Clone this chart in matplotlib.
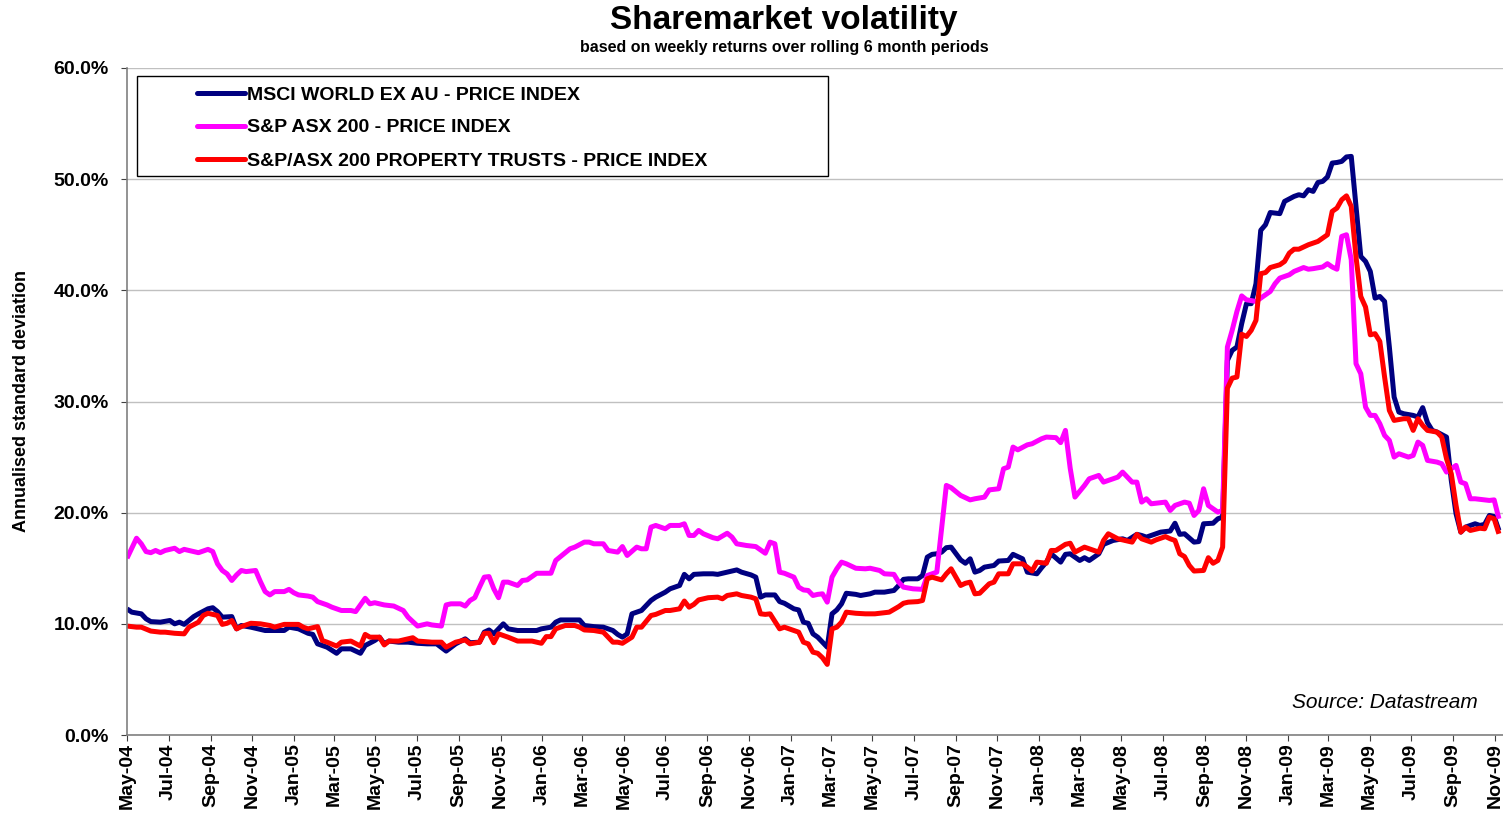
import numpy as np
import pandas as pd
import matplotlib
matplotlib.use("Agg")
import matplotlib.pyplot as plt
from matplotlib.patches import Rectangle
from matplotlib.lines import Line2D

plt.rcParams['font.family'] = ['Liberation Sans', 'DejaVu Sans']
plt.rcParams['font.weight'] = 'bold'

# weekly observation dates, series given as (week number, annualised vol %)
weeks = pd.date_range("2004-05-01", periods=289, freq="7D")

series_names = ["MSCI WORLD EX AU - PRICE INDEX",
                "S&P ASX 200 - PRICE INDEX",
                "S&P/ASX 200 PROPERTY TRUSTS - PRICE INDEX"]

msci_wk = [0, 1, 3, 4, 5, 7, 9, 10, 11, 12, 14, 15, 17, 18, 19, 20, 22, 23, 24, 26,
           29, 31, 33, 34, 36, 38, 39, 40, 42, 44, 45, 47, 49, 50, 52, 53, 54, 55, 57, 59,
           61, 63, 65, 67, 69, 71, 72, 74, 75, 76, 77, 79, 80, 82, 84, 86, 87, 89, 90, 91,
           93, 95, 96, 98, 100, 102, 103, 104, 105, 106, 108, 110, 111, 113, 114, 116, 117, 118, 119, 121,
           123, 124, 126, 128, 129, 131, 132, 133, 134, 136, 137, 138, 140, 141, 142, 143, 144, 145, 146, 147,
           148, 149, 150, 151, 153, 154, 156, 157, 159, 161, 162, 163, 164, 166, 167, 168, 169, 170, 171, 172,
           173, 175, 176, 177, 178, 179, 180, 182, 183, 185, 186, 188, 189, 191, 192, 193, 194, 196, 197, 198,
           200, 201, 202, 204, 205, 207, 209, 210, 212, 213, 214, 216, 217, 219, 220, 221, 222, 224, 225, 226,
           228, 229, 230, 231, 232, 233, 234, 235, 236, 237, 238, 239, 240, 242, 243, 245, 246, 247, 248, 249,
           250, 251, 252, 253, 254, 255, 256, 257, 258, 259, 260, 261, 262, 263, 264, 265, 266, 267, 268, 270,
           271, 272, 273, 274, 275, 277, 278, 279, 280, 281, 283, 284, 285, 286, 287, 288]
msci_vol = [11.35, 11.05, 10.9, 10.45, 10.2, 10.15, 10.3, 10.0, 10.15, 9.95, 10.65, 10.9, 11.35, 11.45, 11.1, 10.6, 10.65, 9.55, 9.85, 9.7,
            9.4, 9.4, 9.4, 9.7, 9.55, 9.15, 9.05, 8.2, 7.9, 7.35, 7.75, 7.75, 7.35, 8.05, 8.5, 8.8, 8.2, 8.45, 8.35, 8.35,
            8.25, 8.2, 8.2, 7.55, 8.2, 8.65, 8.3, 8.35, 9.25, 9.45, 9.1, 10.0, 9.55, 9.4, 9.4, 9.4, 9.55, 9.7, 10.15, 10.35,
            10.35, 10.35, 9.85, 9.75, 9.7, 9.4, 9.05, 8.8, 9.1, 10.9, 11.2, 12.1, 12.4, 12.85, 13.15, 13.45, 14.45, 14.05, 14.45, 14.5,
            14.5, 14.45, 14.65, 14.85, 14.65, 14.4, 14.2, 12.4, 12.6, 12.6, 12.0, 11.85, 11.35, 11.25, 10.15, 10.05, 9.1, 8.8, 8.35, 7.9,
            10.9, 11.25, 11.8, 12.75, 12.65, 12.55, 12.7, 12.85, 12.85, 13.0, 13.45, 14.0, 14.05, 14.05, 14.35, 16.0, 16.25, 16.3, 16.45, 16.85,
            16.9, 15.75, 15.45, 15.85, 14.65, 14.8, 15.1, 15.25, 15.65, 15.7, 16.25, 15.85, 14.65, 14.5, 15.05, 15.55, 16.3, 15.55, 16.25, 16.3,
            15.7, 15.95, 15.7, 16.3, 17.15, 17.5, 17.65, 17.5, 18.05, 17.95, 17.8, 18.1, 18.25, 18.35, 19.05, 18.05, 18.1, 17.35, 17.4, 19.0,
            19.05, 19.45, 19.6, 33.7, 34.6, 34.9, 37.0, 38.8, 38.8, 40.6, 45.4, 45.9, 47.0, 46.9, 48.0, 48.45, 48.6, 48.5, 49.05, 48.9,
            49.7, 49.8, 50.2, 51.45, 51.5, 51.6, 52.0, 52.05, 47.5, 43.05, 42.6, 41.7, 39.3, 39.45, 39.0, 34.9, 30.4, 29.05, 28.9, 28.75,
            28.6, 29.45, 28.1, 27.4, 27.25, 26.8, 22.9, 19.9, 18.25, 18.7, 19.0, 18.85, 18.95, 19.75, 19.65, 18.4]

asx_wk = [0, 2, 3, 4, 5, 6, 7, 8, 10, 11, 12, 14, 15, 17, 18, 19, 20, 21, 22, 23,
          24, 25, 27, 28, 29, 30, 31, 33, 34, 35, 36, 38, 39, 40, 42, 43, 45, 47, 48, 50,
          51, 52, 54, 56, 58, 59, 60, 61, 63, 64, 66, 67, 68, 70, 71, 72, 73, 74, 75, 76,
          77, 78, 79, 80, 82, 83, 84, 86, 88, 89, 90, 91, 93, 94, 96, 97, 98, 100, 101, 103,
          104, 105, 107, 108, 109, 110, 111, 113, 114, 116, 117, 118, 119, 120, 121, 123, 124, 126, 127, 128,
          130, 132, 134, 135, 136, 137, 138, 140, 141, 142, 143, 144, 145, 146, 147, 148, 149, 150, 151, 153,
          155, 156, 158, 159, 161, 162, 163, 165, 167, 168, 169, 170, 172, 173, 175, 176, 177, 178, 180, 181,
          183, 184, 185, 186, 187, 189, 190, 192, 193, 195, 196, 197, 198, 199, 201, 202, 204, 205, 207, 208,
          209, 211, 212, 213, 214, 215, 218, 219, 220, 222, 223, 224, 225, 226, 227, 229, 230, 231, 232, 233,
          234, 235, 237, 238, 240, 241, 242, 244, 245, 247, 248, 249, 251, 252, 253, 254, 255, 256, 257, 258,
          259, 260, 261, 262, 263, 264, 265, 266, 267, 269, 270, 271, 272, 273, 275, 276, 277, 279, 280, 281,
          282, 283, 285, 286, 287, 288]
asx_vol = [15.9, 17.7, 17.2, 16.5, 16.4, 16.6, 16.4, 16.6, 16.8, 16.5, 16.7, 16.5, 16.4, 16.7, 16.5, 15.4, 14.8, 14.5, 13.9, 14.4,
           14.8, 14.7, 14.8, 13.8, 12.9, 12.6, 12.9, 12.9, 13.1, 12.8, 12.6, 12.5, 12.4, 12.0, 11.7, 11.5, 11.2, 11.2, 11.1, 12.3,
           11.8, 11.9, 11.7, 11.6, 11.2, 10.6, 10.2, 9.8, 10.0, 9.9, 9.8, 11.7, 11.8, 11.8, 11.6, 12.1, 12.35, 13.3, 14.2, 14.25,
           13.15, 12.35, 13.75, 13.75, 13.45, 13.9, 13.95, 14.55, 14.55, 14.55, 15.7, 16.05, 16.75, 16.9, 17.35, 17.35, 17.2, 17.2, 16.6, 16.45,
           16.95, 16.15, 16.9, 16.75, 16.75, 18.7, 18.85, 18.55, 18.85, 18.85, 19.0, 17.95, 17.95, 18.4, 18.1, 17.75, 17.65, 18.15, 17.8, 17.2,
           17.05, 16.95, 16.35, 17.35, 17.2, 14.65, 14.55, 14.2, 13.3, 13.05, 13.0, 12.55, 12.65, 12.7, 11.95, 14.2, 14.95, 15.55, 15.4, 15.0,
           14.95, 15.0, 14.8, 14.5, 14.45, 13.75, 13.3, 13.15, 13.1, 14.35, 14.5, 14.65, 22.45, 22.25, 21.55, 21.35, 21.15, 21.25, 21.4, 22.05,
           22.15, 23.95, 24.1, 25.9, 25.65, 26.1, 26.2, 26.65, 26.8, 26.75, 26.3, 27.4, 24.0, 21.4, 22.45, 23.05, 23.35, 22.75, 23.05, 23.2,
           23.65, 22.75, 22.75, 20.95, 21.25, 20.8, 20.95, 20.2, 20.65, 20.95, 20.85, 19.75, 20.2, 22.15, 20.65, 20.05, 20.2, 34.9, 36.4, 38.1,
           39.5, 39.15, 39.0, 39.3, 39.9, 40.6, 41.1, 41.4, 41.7, 42.05, 41.9, 41.95, 42.1, 42.4, 42.1, 41.9, 44.85, 45.0, 42.75, 33.4,
           32.5, 29.5, 28.75, 28.75, 28.0, 26.95, 26.5, 25.0, 25.3, 25.0, 25.15, 26.35, 26.05, 24.7, 24.55, 24.4, 23.65, 24.25, 22.75, 22.6,
           21.25, 21.25, 21.15, 21.1, 21.15, 19.45]

prop_wk = [0, 2, 3, 5, 7, 8, 10, 12, 13, 15, 16, 17, 19, 20, 21, 22, 23, 24, 26, 28,
           30, 31, 33, 36, 37, 38, 40, 41, 42, 44, 45, 47, 49, 50, 51, 53, 54, 55, 57, 60,
           61, 64, 66, 67, 69, 71, 72, 74, 75, 76, 77, 78, 80, 82, 84, 85, 87, 88, 89, 90,
           92, 94, 95, 96, 98, 100, 102, 103, 104, 106, 107, 108, 110, 111, 113, 114, 116, 117, 118, 119,
           120, 122, 124, 125, 126, 128, 129, 131, 132, 133, 134, 135, 137, 138, 140, 141, 142, 143, 144, 145,
           146, 147, 148, 149, 150, 151, 153, 155, 157, 158, 160, 162, 163, 164, 166, 167, 168, 169, 171, 172,
           173, 175, 176, 177, 178, 179, 181, 182, 183, 185, 186, 188, 189, 190, 191, 193, 194, 195, 197, 198,
           199, 201, 202, 204, 205, 206, 208, 209, 211, 212, 213, 215, 216, 218, 219, 220, 221, 222, 223, 224,
           226, 227, 228, 229, 230, 231, 232, 233, 234, 235, 236, 237, 238, 239, 240, 242, 243, 244, 245, 246,
           248, 249, 250, 251, 252, 253, 254, 255, 256, 257, 258, 259, 260, 261, 262, 263, 264, 265, 266, 268,
           269, 270, 271, 272, 273, 275, 276, 277, 278, 279, 280, 281, 282, 284, 285, 286, 287, 288]
prop_vol = [9.8, 9.7, 9.7, 9.35, 9.25, 9.25, 9.15, 9.1, 9.7, 10.15, 10.75, 10.95, 10.75, 9.95, 10.05, 10.3, 9.55, 9.75, 10.05, 10.0,
            9.85, 9.7, 9.95, 9.95, 9.7, 9.55, 9.75, 8.5, 8.35, 8.0, 8.35, 8.45, 8.0, 9.05, 8.8, 8.8, 8.1, 8.45, 8.45, 8.75,
            8.45, 8.35, 8.35, 7.9, 8.35, 8.55, 8.2, 8.35, 9.15, 9.15, 8.3, 9.1, 8.8, 8.45, 8.45, 8.45, 8.25, 8.85, 8.85, 9.55,
            9.85, 9.85, 9.7, 9.45, 9.4, 9.25, 8.35, 8.35, 8.25, 8.8, 9.7, 9.7, 10.75, 10.85, 11.2, 11.2, 11.35, 12.05, 11.5, 11.75,
            12.15, 12.35, 12.4, 12.25, 12.55, 12.7, 12.55, 12.4, 12.25, 10.9, 10.85, 10.9, 9.55, 9.7, 9.4, 9.25, 8.35, 8.2, 7.45, 7.35,
            6.95, 6.35, 9.55, 9.7, 10.15, 11.05, 10.95, 10.9, 10.9, 10.95, 11.05, 11.55, 11.85, 11.95, 12.0, 12.1, 14.05, 14.2, 13.95, 14.5,
            14.95, 13.45, 13.65, 13.75, 12.7, 12.75, 13.6, 13.75, 14.5, 14.5, 15.4, 15.4, 15.1, 14.75, 15.55, 15.45, 16.6, 16.6, 17.15, 17.25,
            16.45, 16.9, 16.75, 16.45, 17.5, 18.1, 17.65, 17.55, 17.35, 18.05, 17.65, 17.35, 17.55, 17.85, 17.65, 17.5, 16.3, 16.05, 15.25, 14.75,
            14.8, 15.95, 15.45, 15.7, 16.9, 31.2, 32.1, 32.2, 36.05, 35.85, 36.4, 37.3, 41.5, 41.6, 42.05, 42.3, 42.6, 43.35, 43.7, 43.7,
            44.1, 44.25, 44.4, 44.7, 45.0, 47.1, 47.4, 48.15, 48.5, 47.55, 43.0, 39.45, 38.5, 36.0, 36.1, 35.4, 32.2, 29.2, 28.3, 28.45,
            28.45, 27.4, 28.45, 27.85, 27.4, 27.25, 26.8, 24.85, 23.5, 20.65, 18.25, 18.7, 18.4, 18.6, 18.55, 19.6, 19.45, 18.1]

colors = ["#000080", "#FF00FF", "#FF0000"]
y_ticks = [0, 10, 20, 30, 40, 50, 60]

W, H = 1503, 814
fig = plt.figure(figsize=(W / 100, H / 100), dpi=100)
ax = fig.add_axes([127 / W, 1 - 735 / H, (W - 127) / W, (735 - 68) / H])

for wk, vol, c in zip([msci_wk, asx_wk, prop_wk], [msci_vol, asx_vol, prop_vol], colors):
    ax.plot(weeks[wk], vol, color=c, lw=3.6, solid_joinstyle='round', solid_capstyle='butt')

ax.set_xlim(pd.Timestamp("2004-05-01"), pd.Timestamp("2009-11-13"))
ax.set_ylim(0, 60)
ax.set_yticks(y_ticks)
ax.set_yticklabels([f"{v:.1f}%" for v in y_ticks], fontsize=14, fontweight='bold')
xt = pd.date_range("2004-05-01", "2009-11-01", freq="2MS")
ax.set_xticks(xt)
ax.set_xticklabels([d.strftime("%b-%y") for d in xt], rotation=90, fontsize=14,
                   fontweight='bold', ha='center', va='top')
ax.tick_params(axis='y', direction='out', length=4, pad=9, color='#404040')
ax.tick_params(axis='x', direction='out', length=4, pad=2, color='#404040')
ax.yaxis.grid(True, color='#c0c0c0', lw=1)
ax.set_axisbelow(True)
for s in ['top', 'right']:
    ax.spines[s].set_visible(False)
for s in ['left', 'bottom']:
    ax.spines[s].set_color('#808080')
    ax.spines[s].set_linewidth(1.2)

fig.text(784 / W, 1 - 29 / H, "Sharemarket volatility", ha='center', va='baseline',
         fontsize=24, fontweight='bold')
fig.text(784 / W, 1 - 52 / H, "based on weekly returns over rolling 6 month periods",
         ha='center', va='baseline', fontsize=11.5, fontweight='bold')
fig.text(22 / W, 1 - 401 / H, "Annualised standard deviation", rotation=90,
         ha='center', va='center', fontsize=13, fontweight='bold')
fig.text(1478 / W, 1 - 703 / H, "Source: Datastream", ha='right', va='center',
         fontsize=15, fontweight='normal', style='italic')

# legend box
fig.add_artist(Rectangle((137 / W, 1 - 176 / H), (828 - 137) / W, 100 / H,
                         transform=fig.transFigure, facecolor='white',
                         edgecolor='black', lw=1, zorder=5))
for i, (name, c) in enumerate(zip(series_names, colors)):
    yy = 1 - (93 + 33 * i) / H
    fig.add_artist(Line2D([197 / W, 245 / W], [yy, yy], transform=fig.transFigure,
                          color=c, lw=3.6, solid_capstyle='round', zorder=6))
    fig.text(247 / W, 1 - (99.5 + 33 * i) / H, name, ha='left', va='baseline',
             fontsize=14, fontweight='bold', zorder=7)

fig.savefig("out.png", dpi=100)
